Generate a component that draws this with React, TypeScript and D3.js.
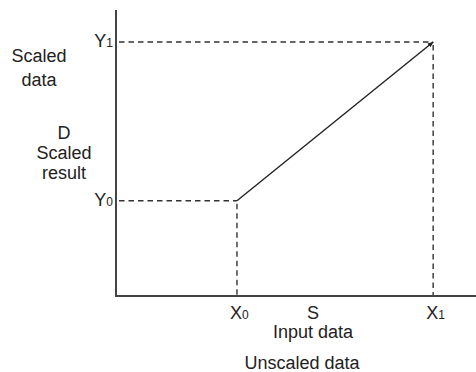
import React from "react";
import * as d3 from "d3";

const W = 476;
const H = 372;

// axis domain extents (normalized units)
const axisDomainX = [0, 1];
const axisDomainY = [0, 1];
// scaling points: [input, scaled]
const pointLabelsX = ["X", "X"];
const pointSubsX = ["0", "1"];
const pointLabelsY = ["Y", "Y"];
const pointSubsY = ["0", "1"];
const inputValues = [0.336, 0.881];
const scaledValues = [0.333, 0.888];
const leftLabelTop = ["Scaled", "data"];
const leftLabelMid = ["D", "Scaled", "result"];
const bottomLabels = ["S", "Input data"];
const bottomLabel2 = "Unscaled data";

export default function App() {
  const x = d3.scaleLinear().domain(axisDomainX).range([116, 476]);
  const y = d3.scaleLinear().domain(axisDomainY).range([296, 10]);
  const pts: [number, number][] = inputValues.map((v, i) => [x(v), y(scaledValues[i])]);
  const line = d3.line()(pts) || "";
  const font = "'Liberation Sans', Arial, Helvetica, sans-serif";
  const tc = "#222";
  const dash = "5.5,4";
  return (
    <svg
      width={W}
      height={H}
      style={{ position: "absolute", left: 0, top: 0, background: "#fff" }}
      fontFamily={font}
    >
      <defs>
        <marker id="arr" viewBox="0 0 10 10" refX="9" refY="5" markerWidth="6" markerHeight="6" orient="auto" markerUnits="userSpaceOnUse">
          <path d="M0,1 L10,5 L0,9 Z" fill="#222" />
        </marker>
      </defs>
      {/* dashed guides */}
      {pts.map(([px, py], i) => (
        <g key={i} stroke="#333" strokeWidth={1.4} strokeDasharray={dash} fill="none">
          <line x1={x(axisDomainX[0]) + 3} y1={py} x2={px} y2={py} />
          <line x1={px} y1={py + 3} x2={px} y2={y(axisDomainY[0])} />
        </g>
      ))}
      {/* axes */}
      <line x1={x(axisDomainX[0])} y1={y(axisDomainY[1])} x2={x(axisDomainX[0])} y2={y(axisDomainY[0]) + 1} stroke="#444" strokeWidth={2} />
      <line x1={x(axisDomainX[0])} y1={y(axisDomainY[0])} x2={x(axisDomainX[1])} y2={y(axisDomainY[0])} stroke="#444" strokeWidth={2} />
      {/* scaling line */}
      <path d={line} stroke="#222" strokeWidth={1.4} fill="none" markerEnd="url(#arr)" />
      {/* Y labels */}
      {scaledValues.map((v, i) => (
        <text key={"y" + i} x={x(axisDomainX[0]) - 3} y={y(v) + 5} textAnchor="end" fill={tc} fontSize={18}>
          {pointLabelsY[i]}
          <tspan fontSize={12}>{pointSubsY[i]}</tspan>
        </text>
      ))}
      {/* X labels */}
      {inputValues.map((v, i) => (
        <text key={"x" + i} x={x(v) - 7} y={319} fill={tc} fontSize={18}>
          {pointLabelsX[i]}
          <tspan fontSize={12}>{pointSubsX[i]}</tspan>
        </text>
      ))}
      {leftLabelTop.map((t, i) => (
        <text key={"lt" + i} x={39} y={62 + i * 24} textAnchor="middle" fill={tc} fontSize={18}>{t}</text>
      ))}
      {leftLabelMid.map((t, i) => (
        <text key={"lm" + i} x={64} y={139 + i * 20} textAnchor="middle" fill={tc} fontSize={18}>{t}</text>
      ))}
      {bottomLabels.map((t, i) => (
        <text key={"b" + i} x={313} y={319 + i * 19} textAnchor="middle" fill={tc} fontSize={18}>{t}</text>
      ))}
      <text x={302} y={369} textAnchor="middle" fill={tc} fontSize={18}>{bottomLabel2}</text>
    </svg>
  );
}
